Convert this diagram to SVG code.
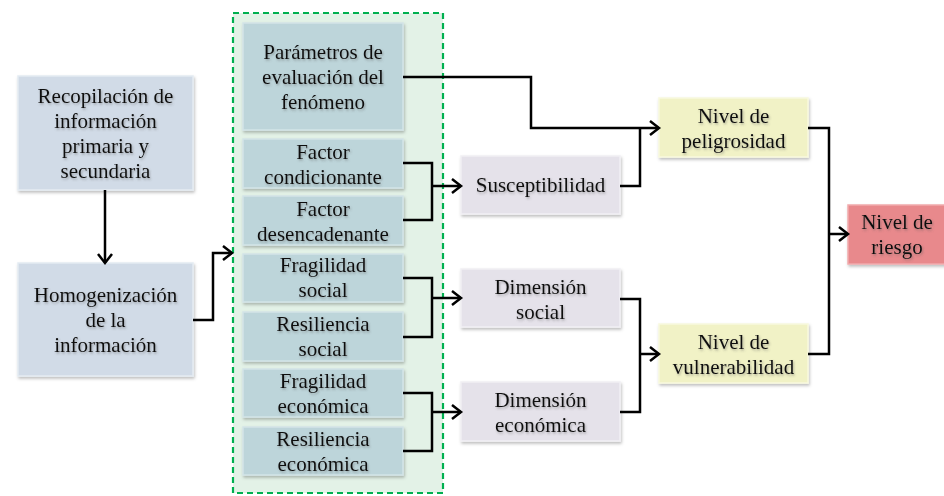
<svg xmlns="http://www.w3.org/2000/svg" width="944" height="496" viewBox="0 0 944 496">
<defs>
<style>
text{font-family:"Liberation Serif","Times New Roman",serif;font-size:21px;fill:#111;text-anchor:middle;filter:url(#ts)}
.box{stroke-width:1.5;filter:url(#bs)}
.b1{fill:#D1DBE7;stroke:#E4EBF2}
.b2{fill:#BDD5DA;stroke:#D3E4E7}
.b3{fill:#E5E2EA;stroke:#F1EFF4}
.b4{fill:#F1F2C6;stroke:#F8F9DE}
.b5{fill:#E8898C;stroke:#F1AAAC}
.ln{fill:none;stroke:#000;stroke-width:2.5}
.ar{marker-end:url(#ah)}
</style>
<filter id="bs" x="-10%" y="-10%" width="120%" height="130%">
<feDropShadow dx="1" dy="2" stdDeviation="1.8" flood-color="#000" flood-opacity="0.25"/>
</filter>
<filter id="ts" x="-10%" y="-20%" width="120%" height="150%">
<feDropShadow dx="1" dy="1.5" stdDeviation="1.2" flood-color="#555" flood-opacity="0.45"/>
</filter>
<marker id="ah" markerUnits="userSpaceOnUse" markerWidth="16" markerHeight="18" refX="10" refY="8" orient="auto" overflow="visible">
<path d="M1,1 L10,8 L1,15" fill="none" stroke="#000" stroke-width="2.5"/>
</marker>
</defs>
<rect width="944" height="496" fill="#fff"/>

<g id="container">
<rect x="233" y="13" width="210" height="480" fill="#E3F2E7" stroke="#00B050" stroke-width="2.2" stroke-dasharray="6,4"/>
</g>

<g id="recopilacion">
<rect class="box b1" x="18" y="76" width="175" height="114"/>
<text x="105.5" y="102.5">Recopilación de</text>
<text x="105.5" y="127.5">información</text>
<text x="105.5" y="152.5">primaria y</text>
<text x="105.5" y="177.5">secundaria</text>
</g>

<g id="homogenizacion">
<rect class="box b1" x="18" y="263" width="175" height="113"/>
<text x="105.5" y="301.5">Homogenización</text>
<text x="105.5" y="326.5">de la</text>
<text x="105.5" y="351.5">información</text>
</g>

<g id="parametros">
<rect class="box b2" x="243" y="23" width="160" height="107"/>
<text x="323" y="58.5">Parámetros de</text>
<text x="323" y="83.5">evaluación del</text>
<text x="323" y="108.5">fenómeno</text>
</g>

<g id="factor-condicionante">
<rect class="box b2" x="243" y="139" width="160" height="49"/>
<text x="323" y="158.5">Factor</text>
<text x="323" y="183.5">condicionante</text>
</g>

<g id="factor-desencadenante">
<rect class="box b2" x="243" y="196" width="160" height="49"/>
<text x="323" y="215.5">Factor</text>
<text x="323" y="240.5">desencadenante</text>
</g>

<g id="fragilidad-social">
<rect class="box b2" x="243" y="254" width="160" height="48"/>
<text x="323" y="272">Fragilidad</text>
<text x="323" y="297">social</text>
</g>

<g id="resiliencia-social">
<rect class="box b2" x="243" y="312" width="160" height="49"/>
<text x="323" y="331">Resiliencia</text>
<text x="323" y="356">social</text>
</g>

<g id="fragilidad-economica">
<rect class="box b2" x="243" y="369" width="160" height="48"/>
<text x="323" y="388">Fragilidad</text>
<text x="323" y="413">económica</text>
</g>

<g id="resiliencia-economica">
<rect class="box b2" x="243" y="427" width="160" height="48"/>
<text x="323" y="446">Resiliencia</text>
<text x="323" y="471">económica</text>
</g>

<g id="susceptibilidad">
<rect class="box b3" x="461" y="156" width="159" height="58"/>
<text x="540.5" y="192">Susceptibilidad</text>
</g>

<g id="dimension-social">
<rect class="box b3" x="461" y="269" width="159" height="58"/>
<text x="540.5" y="294">Dimensión</text>
<text x="540.5" y="319">social</text>
</g>

<g id="dimension-economica">
<rect class="box b3" x="461" y="382" width="159" height="59"/>
<text x="540.5" y="407">Dimensión</text>
<text x="540.5" y="432">económica</text>
</g>

<g id="peligrosidad">
<rect class="box b4" x="659" y="98" width="149" height="59"/>
<text x="733.5" y="123">Nivel de</text>
<text x="733.5" y="148">peligrosidad</text>
</g>

<g id="vulnerabilidad">
<rect class="box b4" x="659" y="324" width="149" height="59"/>
<text x="733.5" y="349">Nivel de</text>
<text x="733.5" y="374">vulnerabilidad</text>
</g>

<g id="riesgo">
<rect class="box b5" x="848" y="205" width="99" height="59"/>
<text x="897" y="229">Nivel de</text>
<text x="897" y="254">riesgo</text>
</g>

<g id="connectors">
<path class="ln ar" d="M105,190 V263"/>
<path class="ln ar" d="M193,320 H213 V253 H232"/>
<path class="ln ar" d="M403,77 H531 V128 H659"/>
<path class="ln" d="M403,163 H432 V220 H403"/>
<path class="ln ar" d="M432,186 H461"/>
<path class="ln" d="M403,278 H432 V337 H403"/>
<path class="ln ar" d="M432,298 H461"/>
<path class="ln" d="M403,393 H432 V451 H403"/>
<path class="ln ar" d="M432,412 H461"/>
<path class="ln" d="M620,186 H640 V128"/>
<path class="ln" d="M620,299 H640 V412 H620"/>
<path class="ln ar" d="M640,354 H659"/>
<path class="ln" d="M808,128 H829 V354 H808"/>
<path class="ln ar" d="M829,234 H848"/>
</g>
</svg>
